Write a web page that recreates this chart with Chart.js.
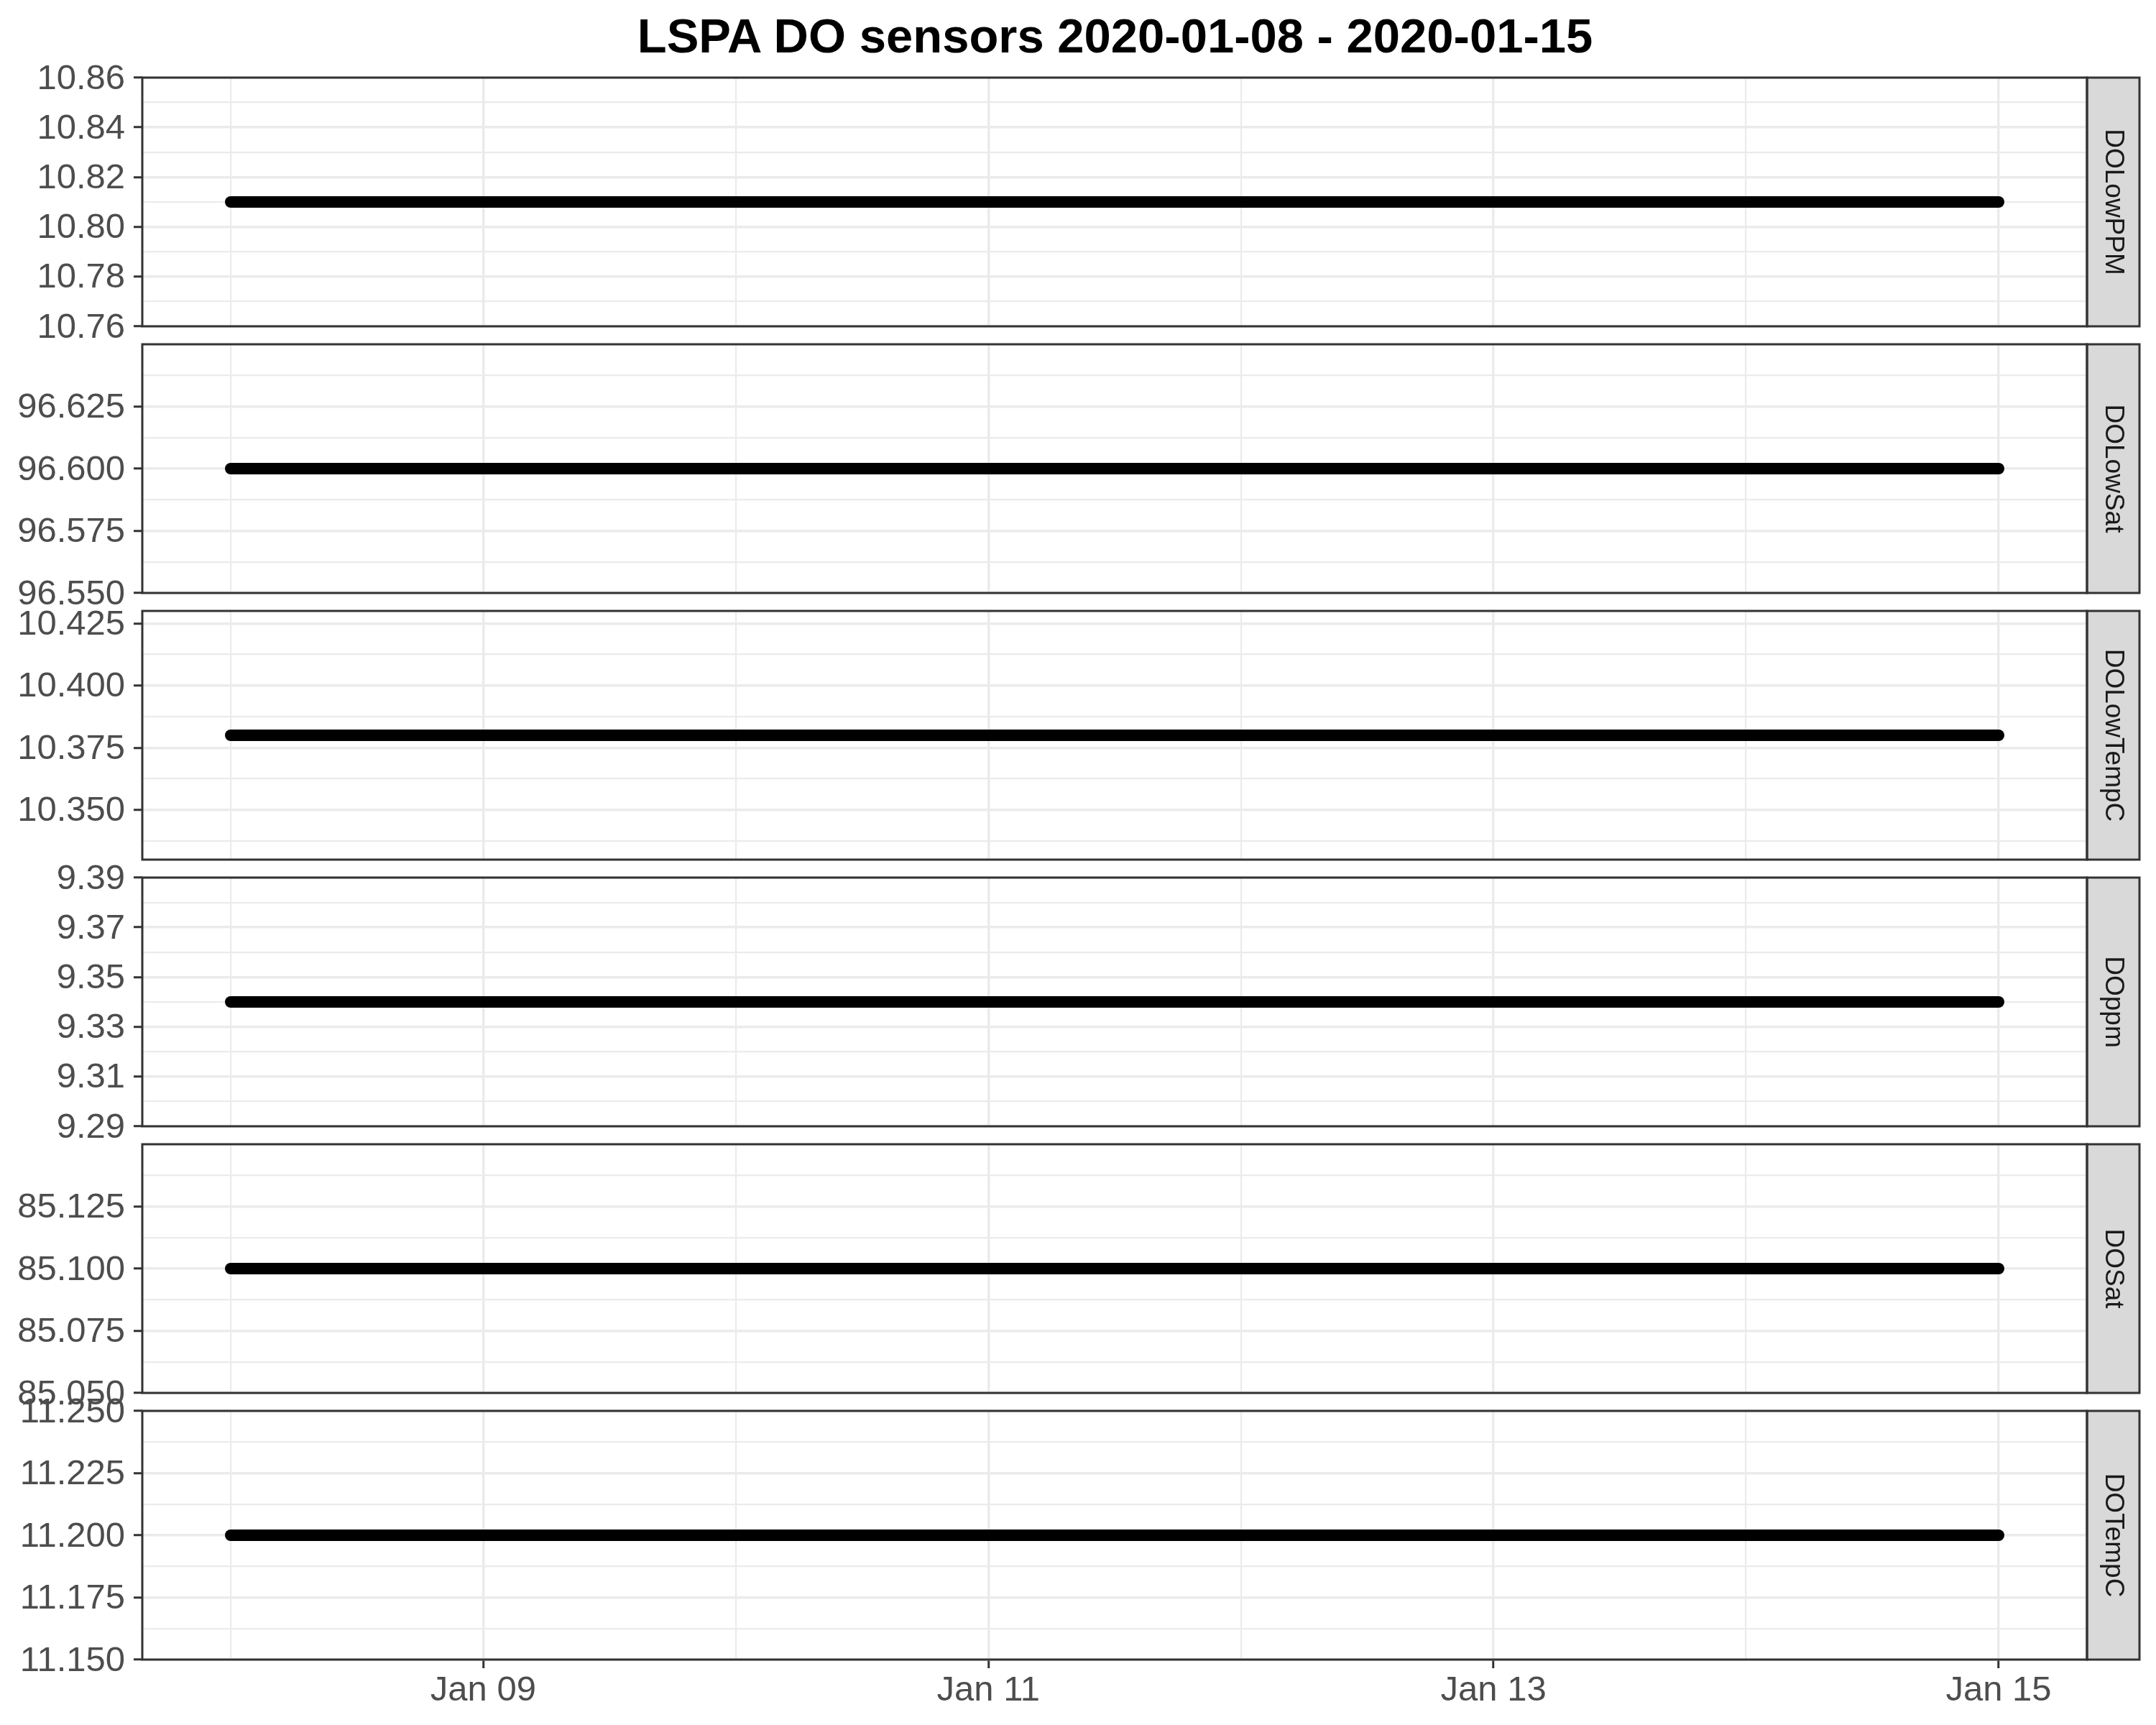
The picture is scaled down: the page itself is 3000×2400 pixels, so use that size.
<!DOCTYPE html>
<html><head><meta charset="utf-8">
<script src="https://cdn.jsdelivr.net/npm/chart.js@4.4.1/dist/chart.umd.min.js"></script>
<style>
html,body{margin:0;padding:0;background:#fff;}
#wrap{position:relative;width:3000px;height:2400px;background:#fff;overflow:hidden;}
#title{position:absolute;left:0;top:16px;width:3103px;text-align:center;font-family:'Liberation Sans',Arial,sans-serif;font-weight:bold;font-size:67px;line-height:67px;color:#000;white-space:nowrap;}
canvas{position:absolute;left:0;}
</style></head><body><div id="wrap"><div id="title">LSPA DO sensors 2020-01-08 - 2020-01-15</div></div>
<script>
// ---------------- data ----------------
const dates = ['2020-01-08','2020-01-09','2020-01-10','2020-01-11','2020-01-12','2020-01-13','2020-01-14','2020-01-15'];
const panelNames = ['DOLowPPM','DOLowSat','DOLowTempC','DOppm','DOSat','DOTempC'];
const doLowPPM   = [10.81,10.81,10.81,10.81,10.81,10.81,10.81,10.81];
const doLowSat   = [96.60,96.60,96.60,96.60,96.60,96.60,96.60,96.60];
const doLowTempC = [10.38,10.38,10.38,10.38,10.38,10.38,10.38,10.38];
const doPpm      = [9.34,9.34,9.34,9.34,9.34,9.34,9.34,9.34];
const doSat      = [85.10,85.10,85.10,85.10,85.10,85.10,85.10,85.10];
const doTempC    = [11.20,11.20,11.20,11.20,11.20,11.20,11.20,11.20];
const yLimits = [[10.76,10.86],[96.55,96.65],[10.33,10.43],[9.29,9.39],[85.05,85.15],[11.15,11.25]];
const yTickLabels = [
  ['10.76','10.78','10.80','10.82','10.84','10.86'],
  ['96.550','96.575','96.600','96.625'],
  ['10.350','10.375','10.400','10.425'],
  ['9.29','9.31','9.33','9.35','9.37','9.39'],
  ['85.050','85.075','85.100','85.125'],
  ['11.150','11.175','11.200','11.225','11.250']
];
const xTickDates  = ['2020-01-09','2020-01-11','2020-01-13','2020-01-15'];
const xTickLabels = ['Jan 09','Jan 11','Jan 13','Jan 15'];
const xMinorDates = ['2020-01-08','2020-01-10','2020-01-12','2020-01-14'];
const seriesValues = [doLowPPM, doLowSat, doLowTempC, doPpm, doSat, doTempC];

// ---------------- layout / style ----------------
const FONT = "'Liberation Sans', Arial, sans-serif";
const PANEL_TOP0 = 108, PANEL_H = 346, PANEL_PITCH = 371;
const AXIS_W = 198, PLOT_RIGHT = 2904, STRIP_W = 73, CANVAS_W = 3000;
const PAD = 42, XAXIS_H = 95;
const GRID_COL = '#EBEBEB', MAJOR_W = 3.5, MINOR_W = 2.2;
const FRAME_COL = '#333333', FRAME_W = 3;

Chart.defaults.font.family = FONT;

const toT = d => Date.parse(d + 'T00:00:00Z');
const xs = dates.map(toT);
const xSpan = xs[xs.length - 1] - xs[0];
const xMin = xs[0] - 0.05 * xSpan, xMax = xs[xs.length - 1] + 0.05 * xSpan;

const xTickObjs = [];
xMinorDates.forEach(d => xTickObjs.push({value: toT(d), isMajor: false, txt: ''}));
xTickDates.forEach((d, i) => xTickObjs.push({value: toT(d), isMajor: true, txt: xTickLabels[i]}));
xTickObjs.sort((a, b) => a.value - b.value);

function yTicksFor(p) {
  const [lo, hi] = yLimits[p];
  const maj = yTickLabels[p].map(Number);
  const step = maj[1] - maj[0];
  const ext = [maj[0] - step, ...maj, maj[maj.length - 1] + step];
  const out = yTickLabels[p].map(s => ({value: Number(s), isMajor: true, txt: s}));
  for (let i = 0; i < ext.length - 1; i++) {
    const m = (ext[i] + ext[i + 1]) / 2;
    if (m > lo + 1e-9 && m < hi - 1e-9) out.push({value: m, isMajor: false, txt: ''});
  }
  out.sort((a, b) => a.value - b.value);
  return out;
}

const framePlugin = {
  id: 'frame',
  afterDraw(chart, args, opts) {
    const {ctx, chartArea: a} = chart;
    ctx.save();
    // strip
    ctx.fillStyle = '#D9D9D9';
    ctx.fillRect(a.right, a.top, STRIP_W, a.bottom - a.top);
    ctx.lineWidth = FRAME_W;
    ctx.strokeStyle = FRAME_COL;
    ctx.strokeRect(a.right, a.top, STRIP_W, a.bottom - a.top);
    // panel border
    ctx.strokeRect(a.left, a.top, a.right - a.left, a.bottom - a.top);
    // strip text
    ctx.translate(a.right + STRIP_W / 2, (a.top + a.bottom) / 2);
    ctx.rotate(Math.PI / 2);
    ctx.fillStyle = '#1A1A1A';
    ctx.font = '37px ' + FONT;
    ctx.textAlign = 'center';
    ctx.textBaseline = 'middle';
    ctx.fillText(opts.label, 0, 0);
    ctx.restore();
  }
};

const wrap = document.getElementById('wrap');
panelNames.forEach((name, p) => {
  const last = p === panelNames.length - 1;
  const top = PANEL_TOP0 + p * PANEL_PITCH;
  const h = PAD + PANEL_H + (last ? XAXIS_H : PAD);
  const cv = document.createElement('canvas');
  cv.width = CANVAS_W; cv.height = h;
  cv.style.width = CANVAS_W + 'px'; cv.style.height = h + 'px';
  cv.style.top = (top - PAD) + 'px';
  wrap.appendChild(cv);
  const yT = yTicksFor(p);
  new Chart(cv.getContext('2d'), {
    type: 'line',
    data: {
      datasets: [{
        data: xs.map((x, i) => ({x: x, y: seriesValues[p][i]})),
        borderColor: '#000000',
        borderWidth: 16,
        borderCapStyle: 'round',
        borderJoinStyle: 'round',
        pointRadius: 0,
        tension: 0
      }]
    },
    options: {
      responsive: false,
      devicePixelRatio: 1,
      animation: false,
      layout: {padding: {top: PAD, bottom: last ? 0 : PAD, left: 0, right: CANVAS_W - PLOT_RIGHT}},
      plugins: {legend: {display: false}, tooltip: {enabled: false}, frame: {label: name}},
      scales: {
        x: {
          type: 'linear', min: xMin, max: xMax,
          afterBuildTicks: s => { s.ticks = xTickObjs.map(t => ({...t})); },
          afterFit: s => { s.height = last ? XAXIS_H : 0; },
          border: {display: false},
          grid: {
            color: GRID_COL,
            lineWidth: c => (c.tick && c.tick.isMajor) ? MAJOR_W : MINOR_W,
            drawTicks: last,
            tickLength: 12,
            tickWidth: 3,
            tickColor: c => (c.tick && c.tick.isMajor) ? FRAME_COL : 'rgba(0,0,0,0)'
          },
          ticks: {
            display: last,
            autoSkip: false,
            maxRotation: 0,
            padding: 2,
            color: '#4D4D4D',
            font: {size: 49, family: FONT},
            callback: (v, i, ticks) => ticks[i].txt || ''
          }
        },
        y: {
          type: 'linear', min: yLimits[p][0], max: yLimits[p][1],
          afterBuildTicks: s => { s.ticks = yT.map(t => ({...t})); },
          afterFit: s => { s.width = AXIS_W; },
          border: {display: false},
          grid: {
            color: GRID_COL,
            lineWidth: c => (c.tick && c.tick.isMajor) ? MAJOR_W : MINOR_W,
            drawTicks: true,
            tickLength: 12,
            tickWidth: 3,
            tickColor: c => (c.tick && c.tick.isMajor) ? FRAME_COL : 'rgba(0,0,0,0)'
          },
          ticks: {
            autoSkip: false,
            padding: 12,
            labelOffset: 2,
            color: '#4D4D4D',
            font: {size: 49, family: FONT},
            callback: (v, i, ticks) => ticks[i].txt || ''
          }
        }
      }
    },
    plugins: [framePlugin]
  });
});
</script></body></html>
